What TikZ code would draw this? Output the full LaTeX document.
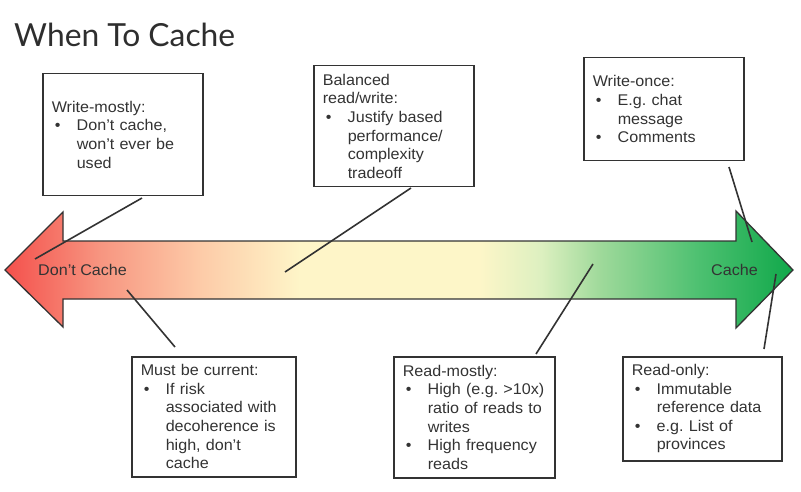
\documentclass[tikz,border=0pt]{standalone}
\usepackage{fontspec}
\setmainfont{Liberation Sans}[FakeStretch=1.04]
\newfontfamily\titlefont{Lato}
\usetikzlibrary{calc}
\frenchspacing
\definecolor{ink}{HTML}{333333}
\definecolor{cA}{HTML}{F4504C}
\definecolor{cB}{HTML}{F79580}
\definecolor{cC}{HTML}{FDCBA8}
\definecolor{cD}{HTML}{FEF5C8}
\definecolor{cE}{HTML}{FDF6C8}
\definecolor{cF}{HTML}{DDF0C0}
\definecolor{cG}{HTML}{9ED99A}
\definecolor{cH}{HTML}{4CC070}
\definecolor{cI}{HTML}{10A84A}
\pgfdeclarehorizontalshading{cachegrad}{100bp}{color(0bp)=(cA); color(25bp)=(cA); color(31bp)=(cB); color(37.4bp)=(cC); color(43.7bp)=(cD); color(55.1bp)=(cE); color(59bp)=(cF); color(62.8bp)=(cG); color(69.1bp)=(cH); color(75bp)=(cI); color(100bp)=(cI)}
\newcommand{\bul}{\makebox[25pt][l]{\hspace{3pt}\textbullet}}
\newcommand{\ind}{\hspace*{25pt}}
\tikzset{
  infobox/.style={draw=ink, line width=1.5pt, fill=white, text=ink, anchor=north west,
    inner xsep=9pt, inner ysep=0pt, align=left,
    font=\fontsize{15.5}{18.6}\selectfont\frenchspacing},
  link/.style={draw=ink, line width=1.6pt},
  endlabel/.style={text=ink, anchor=base west, inner sep=0pt, font=\fontsize{15.5}{18.6}\selectfont}
}
\begin{document}
\begin{tikzpicture}[x=1pt,y=-1pt]
\useasboundingbox (0,0) rectangle (801,492);
% title
\node[anchor=base west, inner sep=0pt, text=ink!90!black, font=\titlefont\fontsize{31.8}{36}\selectfont] (title) at (14,47) {When To Cache};
% arrow
\path[draw=ink, line width=1.3pt, shading=cachegrad]
  (5,270) -- (63,212) -- (63,241) -- (736,241) -- (736,211) -- (793,270)
  -- (736,328) -- (736,299) -- (63,299) -- (63,327) -- cycle;
\node[endlabel] (dc) at (38,275) {Don’t Cache};
\node[endlabel] (ca) at (711,275) {Cache};
% boxes
\node[infobox, minimum width=160pt, minimum height=122pt, text width=142pt] (wm) at (42,73)
  {Write-mostly:\\ \bul Don’t cache,\\ \ind won’t ever be\\ \ind used};
\node[infobox, minimum width=160pt, minimum height=121pt, text width=142pt] (bal) at (313,65)
  {Balanced\\ read/write:\\ \bul Justify based\\ \ind performance/\\ \ind complexity\\ \ind tradeoff};
\node[infobox, minimum width=160pt, minimum height=103pt, text width=142pt] (wo) at (583,57)
  {Write-once:\\ \bul E.g. chat\\ \ind message\\ \bul Comments};
\node[infobox, minimum width=164pt, minimum height=120pt, text width=146pt] (mc) at (131,356)
  {Must be current:\\ \bul If risk\\ \ind associated with\\ \ind decoherence is\\ \ind high, don’t\\ \ind cache};
\node[infobox, minimum width=161pt, minimum height=121pt, text width=143pt] (rm) at (393,356)
  {Read-mostly:\\ \bul High (e.g. >10x)\\ \ind ratio of reads to\\ \ind writes\\ \bul High frequency\\ \ind reads};
\node[infobox, minimum width=159pt, minimum height=104pt, text width=141pt] (ro) at (622,356)
  {Read-only:\\ \bul Immutable\\ \ind reference data\\ \bul e.g. List of\\ \ind provinces};
% connector ends
\coordinate (wmA) at (142,198); \coordinate (wmB) at (35,259);
\coordinate (balA) at (411,188); \coordinate (balB) at (285,272);
\coordinate (woA) at (729,167); \coordinate (woB) at (752,242);
\coordinate (mcA) at (175,347); \coordinate (mcB) at (127,290);
\coordinate (rmA) at (536,354); \coordinate (rmB) at (593,264);
\coordinate (roA) at (764,349); \coordinate (roB) at (776,274);
\draw[link] (wmA) -- (wmB);
\draw[link] (balA) -- (balB);
\draw[link] (woA) -- (woB);
\draw[link] (mcA) -- (mcB);
\draw[link] (rmA) -- (rmB);
\draw[link] (roA) -- (roB);
\end{tikzpicture}
\end{document}
